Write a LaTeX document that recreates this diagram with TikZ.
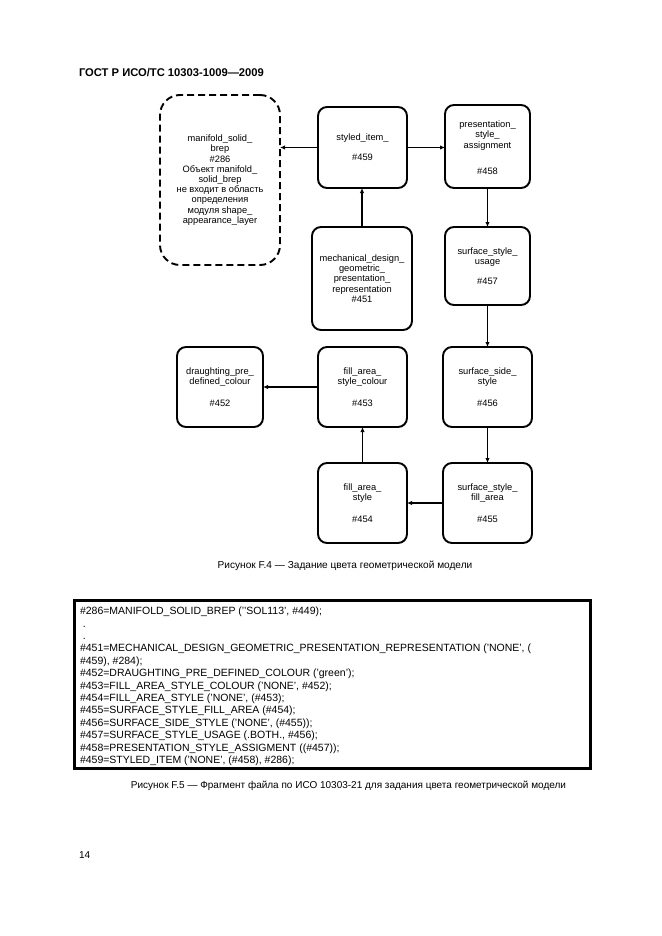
\documentclass[tikz,border=0pt]{standalone}
\usepackage{fontspec}
\setmainfont{Liberation Sans}
\usetikzlibrary{arrows.meta}
\begin{document}
\begin{tikzpicture}[x=1pt,y=-1pt,
  box/.style={draw, line width=1.9pt, rounded corners=9pt, align=center,
    font=\fontsize{9.3}{10.2}\selectfont, inner sep=0pt, outer sep=0pt},
  dbox/.style={box, dash pattern=on 7pt off 4pt, rounded corners=20pt},
  arr/.style={line width=1.8pt, -{Latex[length=5pt,width=4.5pt]}},
  txt/.style={inner sep=0pt, outer sep=0pt}]
\useasboundingbox (0,0) rectangle (661,936);

\node[txt, anchor=west, font=\bfseries\fontsize{11.2}{12}\selectfont] (hdr) at (79,73) {ГОСТ Р ИСО/ТС 10303-1009—2009};

\node[dbox, minimum width=120pt, minimum height=170pt] (msb) at (220,180)
  {manifold\_solid\_\\brep\\\#286\\Объект manifold\_\\solid\_brep\\не входит в область\\определения\\модуля shape\_\\appearance\_layer};
\node[box, minimum width=89pt, minimum height=81pt] (si) at (362.5,147.5)
  {styled\_item\_\\[10pt]\#459};
\node[box, minimum width=85pt, minimum height=83pt] (psa) at (487.5,146.5)
  {\rule{0pt}{9pt}presentation\_\\style\_\\assignment\\[16pt]\#458};
\node[box, minimum width=85pt, minimum height=78pt] (ssu) at (487.5,266)
  {surface\_style\_\\usage\\[10pt]\#457};
\node[box, minimum width=100pt, minimum height=103pt] (mdg) at (362,278.5)
  {mechanical\_design\_\\geometric\_\\presentation\_\\representation\\\#451};
\node[box, minimum width=86pt, minimum height=80pt] (dpc) at (220,387)
  {draughting\_pre\_\\defined\_colour\\[11pt]\#452};
\node[box, minimum width=89pt, minimum height=80pt] (fasc) at (362.5,387)
  {fill\_area\_\\style\_colour\\[11pt]\#453};
\node[box, minimum width=89pt, minimum height=80pt] (sss) at (487.5,387)
  {surface\_side\_\\style\\[11pt]\#456};
\node[box, minimum width=89pt, minimum height=80pt] (fas) at (362.5,503)
  {fill\_area\_\\style\\[12pt]\#454};
\node[box, minimum width=89pt, minimum height=80pt] (ssfa) at (487.5,503)
  {surface\_style\_\\fill\_area\\[12pt]\#455};

\draw[arr] (si.west) -- (si.west -| msb.east);
\draw[arr] (si.east) -- (si.east -| psa.west);
\draw[arr] (mdg.north) -- (mdg.north |- si.south);
\draw[arr] (psa.south) -- (ssu.north);
\draw[arr] (ssu.south) -- (sss.north);
\draw[arr] (fasc.west) -- (dpc.east);
\draw[arr] (sss.south) -- (ssfa.north);
\draw[arr] (ssfa.west) -- (fas.east);
\draw[arr] (fas.north) -- (fasc.south);

\node[txt, font=\fontsize{10.1}{11}\selectfont] (cap4) at (345,566) {Рисунок F.4 — Задание цвета геометрической модели};

\node[draw, line width=3pt, minimum width=516pt, minimum height=168pt, inner sep=0pt, outer sep=0pt] (code) at (332,684) {};
\node[txt, anchor=north west, align=left, font=\fontsize{10.5}{12.4}\selectfont] (codetxt) at (80,607) {%
\#286=MANIFOLD\_SOLID\_BREP ('{}'SOL113', \#449);\\
\ .\\
\ .\\
\#451=MECHANICAL\_DESIGN\_GEOMETRIC\_PRESENTATION\_REPRESENTATION ('NONE', (\\
\#459), \#284);\\
\#452=DRAUGHTING\_PRE\_DEFINED\_COLOUR ('green');\\
\#453=FILL\_AREA\_STYLE\_COLOUR ('NONE', \#452);\\
\#454=FILL\_AREA\_STYLE ('NONE', (\#453);\\
\#455=SURFACE\_STYLE\_FILL\_AREA (\#454);\\
\#456=SURFACE\_SIDE\_STYLE ('NONE', (\#455));\\
\#457=SURFACE\_STYLE\_USAGE (.BOTH., \#456);\\
\#458=PRESENTATION\_STYLE\_ASSIGMENT ((\#457));\\
\#459=STYLED\_ITEM ('NONE', (\#458), \#286);};

\node[txt, font=\fontsize{10}{11}\selectfont] (cap5) at (348.5,786) {Рисунок F.5 — Фрагмент файла по ИСО 10303-21 для задания цвета геометрической модели};

\node[txt, anchor=west, font=\fontsize{10}{11}\selectfont] (pg) at (79,855) {14};
\end{tikzpicture}
\end{document}
